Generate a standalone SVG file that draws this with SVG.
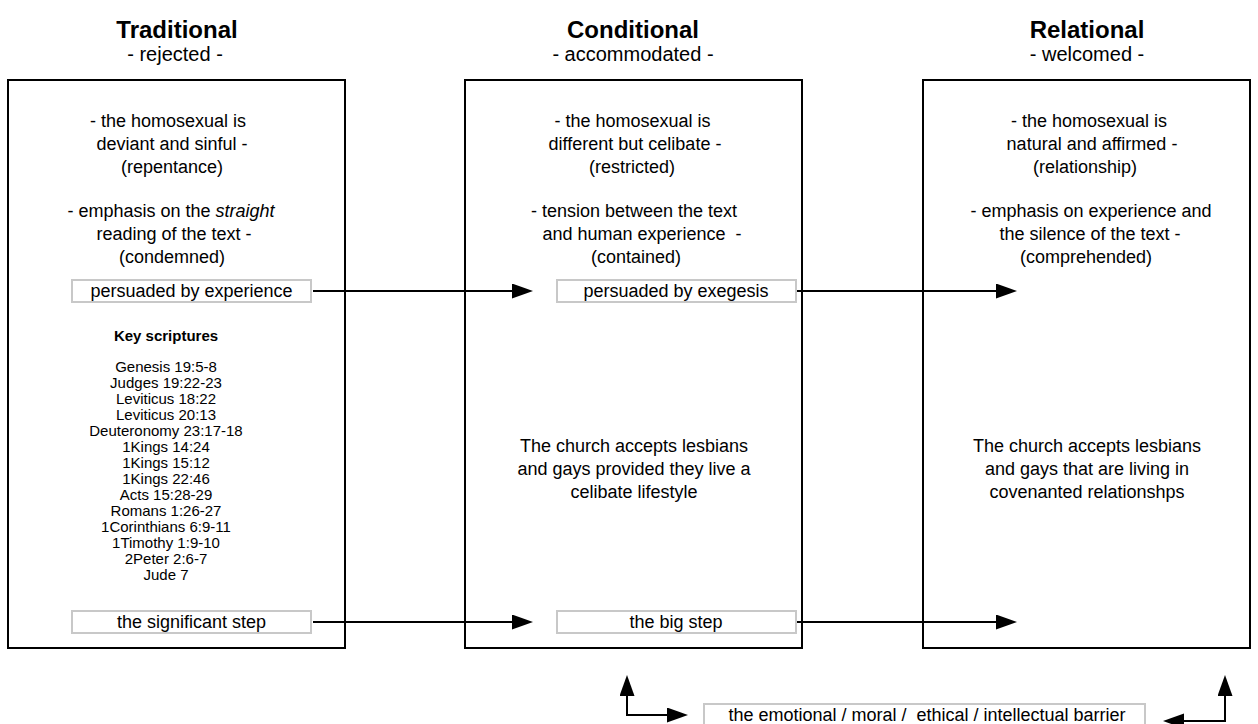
<svg xmlns="http://www.w3.org/2000/svg" width="1258" height="724" viewBox="0 0 1258 724">
<style>
text{font-family:"Liberation Sans",Arial,Helvetica,sans-serif;fill:#000;text-anchor:middle}
.h{font-size:24px;font-weight:bold}
.s{font-size:20px}
.b{font-size:18px}
.k{font-size:15px;font-weight:bold}
.l{font-size:15px}
.box{fill:#fff;stroke:#000;stroke-width:2}
.lab{fill:#fff;stroke:#c8c8c8;stroke-width:2}
.c{fill:none;stroke:#000;stroke-width:2}
</style>
<defs>
<marker id="ah" markerUnits="userSpaceOnUse" markerWidth="22" markerHeight="16" refX="0" refY="7.5" orient="auto-start-reverse"><path d="M0,0 L21,7.5 L0,15 z" fill="#000"/></marker>
</defs>
<g id="traditional">
<text class="h" x="177" y="38">Traditional</text>
<text class="s" x="175" y="61">- rejected -</text>
<rect class="box" x="8" y="80" width="337" height="568"/>
<text class="b" x="168" y="127">- the homosexual is</text>
<text class="b" x="172" y="150">deviant and sinful -</text>
<text class="b" x="172" y="173">(repentance)</text>
<text class="b" x="171" y="217">- emphasis on the <tspan font-style="italic">straight</tspan></text>
<text class="b" x="174" y="240">reading of the text -</text>
<text class="b" x="172" y="263">(condemned)</text>
<text class="k" x="166" y="341">Key scriptures</text>
<text class="l" x="166" y="372">Genesis 19:5-8</text>
<text class="l" x="166" y="388">Judges 19:22-23</text>
<text class="l" x="166" y="404">Leviticus 18:22</text>
<text class="l" x="166" y="420">Leviticus 20:13</text>
<text class="l" x="166" y="436">Deuteronomy 23:17-18</text>
<text class="l" x="166" y="452">1Kings 14:24</text>
<text class="l" x="166" y="468">1Kings 15:12</text>
<text class="l" x="166" y="484">1Kings 22:46</text>
<text class="l" x="166" y="500">Acts 15:28-29</text>
<text class="l" x="166" y="516">Romans 1:26-27</text>
<text class="l" x="166" y="532">1Corinthians 6:9-11</text>
<text class="l" x="166" y="548">1Timothy 1:9-10</text>
<text class="l" x="166" y="564">2Peter 2:6-7</text>
<text class="l" x="166" y="580">Jude 7</text>
</g>
<g id="conditional">
<text class="h" x="633" y="38">Conditional</text>
<text class="s" x="633" y="61">- accommodated -</text>
<rect class="box" x="465" y="80" width="337" height="568"/>
<text class="b" x="632.5" y="127">- the homosexual is</text>
<text class="b" x="635" y="150">different but celibate -</text>
<text class="b" x="632" y="173">(restricted)</text>
<text class="b" x="634" y="217">- tension between the text</text>
<text class="b" x="642" y="240" xml:space="preserve">and human experience  -</text>
<text class="b" x="636" y="263">(contained)</text>
<text class="b" x="634" y="452">The church accepts lesbians</text>
<text class="b" x="634" y="475">and gays provided they live a</text>
<text class="b" x="634" y="498">celibate lifestyle</text>
</g>
<g id="relational">
<text class="h" x="1087" y="38">Relational</text>
<text class="s" x="1087" y="61">- welcomed -</text>
<rect class="box" x="923" y="80" width="327" height="568"/>
<text class="b" x="1089" y="127">- the homosexual is</text>
<text class="b" x="1092" y="150">natural and affirmed -</text>
<text class="b" x="1085" y="173">(relationship)</text>
<text class="b" x="1091" y="217">- emphasis on experience and</text>
<text class="b" x="1090" y="240">the silence of the text -</text>
<text class="b" x="1086" y="263">(comprehended)</text>
<text class="b" x="1087" y="452">The church accepts lesbians</text>
<text class="b" x="1087" y="475">and gays that are living in</text>
<text class="b" x="1087" y="498">covenanted relationshps</text>
</g>
<g id="label-experience">
<rect class="lab" x="72" y="280" width="239" height="22"/>
<text class="b" x="191.5" y="297">persuaded by experience</text>
</g>
<g id="label-exegesis">
<rect class="lab" x="557" y="280" width="239" height="22"/>
<text class="b" x="676" y="297">persuaded by exegesis</text>
</g>
<g id="label-significant">
<rect class="lab" x="72" y="611" width="239" height="22"/>
<text class="b" x="191.5" y="628">the significant step</text>
</g>
<g id="label-big">
<rect class="lab" x="557" y="611" width="239" height="22"/>
<text class="b" x="676" y="628">the big step</text>
</g>
<g id="label-barrier">
<rect class="lab" x="704" y="704" width="441" height="26"/>
<text class="b" x="927" y="721" xml:space="preserve">the emotional / moral /  ethical / intellectual barrier</text>
</g>
<g id="connectors">
<line class="c" x1="313" y1="291" x2="512" y2="291" marker-end="url(#ah)"/>
<line class="c" x1="797" y1="291" x2="996" y2="291" marker-end="url(#ah)"/>
<line class="c" x1="313" y1="622" x2="512" y2="622" marker-end="url(#ah)"/>
<line class="c" x1="797" y1="622" x2="996" y2="622" marker-end="url(#ah)"/>
<path class="c" d="M627,696 V715 H667" marker-start="url(#ah)" marker-end="url(#ah)"/>
<path class="c" d="M1225,696 V721 H1184" marker-start="url(#ah)" marker-end="url(#ah)"/>
</g>
</svg>
